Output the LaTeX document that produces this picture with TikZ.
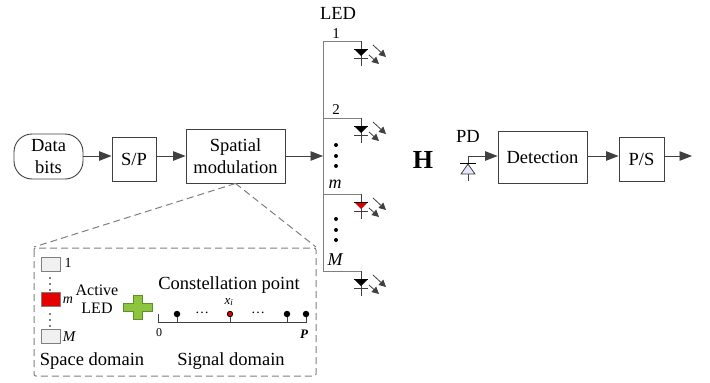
\documentclass[tikz,border=0pt]{standalone}
\usepackage{fontspec}
\setmainfont{Liberation Serif}
\usetikzlibrary{arrows.meta}
\definecolor{ln}{HTML}{404040}
\definecolor{gr}{HTML}{7F7F7F}
\definecolor{plusc}{HTML}{8CC63F}
\definecolor{plusd}{HTML}{5E8F2A}
\tikzset{
 x=1pt,y=-1pt,
 blockbox/.style={draw=ln,line width=.9pt,minimum width=#1,inner sep=0pt,align=center,font=\fontsize{18.5}{22}\selectfont},
 sig/.style={draw=ln,line width=.9pt,-{Triangle[length=12.5pt,width=9.5pt]}},
 bus/.style={draw=gr,line width=1pt},
 txt/.style={inner sep=0pt,font=\fontsize{18.5}{22}\selectfont},
 small/.style={inner sep=0pt,font=\fontsize{14}{16}\selectfont},
 dashbox/.style={draw=gr,line width=1pt,dash pattern=on 7pt off 4pt},
 vdot/.style={circle,fill=black,inner sep=0pt,minimum size=4pt},
 cell/.style={draw=gr,line width=.8pt,fill=#1,minimum width=19pt,minimum height=14pt,inner sep=0pt},
 ptk/.style={circle,fill=black,inner sep=0pt,minimum size=6.5pt},
}
\newcommand{\ledsym}[3]{%
 \coordinate (#1top) at (361,#2);
 \draw[ln,line width=.8pt] (361,#2) -- ++(0,25);
 \fill[#3] (354,#2+8) -- (368,#2+8) -- (361,#2+15) -- cycle;
 \draw[black,line width=.8pt] (354,#2+8) -- (368,#2+8);
 \draw[ln,line width=.8pt] (354,#2+17.5) -- (368,#2+17.5);
 \draw[ln,line width=.8pt,-{Triangle[length=7pt,width=7pt]}] (369,#2+14) -- (379,#2+23);
 \draw[ln,line width=.8pt,-{Triangle[length=7pt,width=7pt]}] (373,#2+4) -- (386,#2+16);
}
\begin{document}
\begin{tikzpicture}
\useasboundingbox (0,0) rectangle (710,383);
% blocks
\coordinate (sigy) at (0,156);
\node[blockbox=69pt,minimum height=45pt,rounded corners=18pt] (data) at (48.5,156.5) {Data\\bits};
\node[blockbox=44pt,minimum height=44pt] (sp) at (134,159) {S/P};
\node[blockbox=99pt,minimum height=54pt] (sm) at (235.5,156) {Spatial\\modulation};
\node[blockbox=89pt,minimum height=52pt] (det) at (542.5,157) {Detection};
\node[blockbox=45pt,minimum height=44pt] (ps) at (641.5,159) {P/S};
\draw[sig] (data.east|-sigy) -- (sp.west|-sigy);
\draw[sig] (sp.east|-sigy) -- (sm.west|-sigy);
\coordinate (busmid) at (323,156);
\draw[sig] (sm.east|-busmid) -- (busmid);
\draw[sig] (det.east|-sigy) -- (ps.west|-sigy);
\coordinate (outend) at (692,156);
\draw[sig] (ps.east|-outend) -- (outend);
% bus
\coordinate (b1) at (323,41); \coordinate (b4) at (323,271);
\draw[bus] (361,41) -- (b1) -- (b4) -- (361,271);
\draw[bus] (323,118) -- (361,118);
\draw[bus] (323,194) -- (361,194);
\ledsym{la}{41}{black}
\ledsym{lb}{118}{black}
\ledsym{lc}{194}{red!85!black}
\ledsym{ld}{271}{black}
\node[txt] (led) at (338,13) {LED};
\node[small,font=\fontsize{15}{17}\selectfont] (n1) at (336,34) {1};
\node[small,font=\fontsize{15}{17}\selectfont] (n2) at (336,110) {2};
\node[small,font=\fontsize{18}{20}\selectfont\itshape] (nm) at (335,184) {m};
\node[small,font=\fontsize{18}{20}\selectfont\itshape] (nM) at (335,260) {M};
\foreach \n/\y in {a/145,b/156,c/166,d/219,e/230,f/240} \node[vdot] (d\n) at (336,\y) {};
% channel
\node[inner sep=0pt,font=\fontsize{26}{30}\selectfont\bfseries] (H) at (423,160) {H};
\node[txt] (pd) at (468,136) {PD};
\coordinate (pdt) at (468,156);
\coordinate (pdb) at (468,181);
\draw[ln,line width=.8pt] (pdb) -- (pdt);
\draw[sig] (pdt) -- (det.west|-pdt);
\draw[ln,line width=.8pt,fill=blue!10] (461,174) -- (475,174) -- (468,164) -- cycle;
\draw[black,line width=.8pt] (460,163.5) -- (476,163.5);
% dashed zoom
\draw[dashbox,rounded corners=2pt] (34,248) rectangle (316,376);
\coordinate (zl) at (34,247);
\coordinate (zr) at (316,247);
\draw[dashbox] (sm.south) -- (zl);
\draw[dashbox] (sm.south) -- (zr);
% space domain
\node[cell=gray!12] (c1) at (50.5,264) {};
\node[cell=red!90!black] (c2) at (50.5,299.5) {};
\node[cell=gray!12] (c3) at (50.5,336) {};
\node[small] (c1l) at (68,263) {1};
\node[small,font=\fontsize{14}{16}\selectfont\itshape] (c2l) at (68,300) {m};
\node[small,font=\fontsize{15}{17}\selectfont\itshape] (c3l) at (69,337) {M};
\foreach \y in {278,284,290,314,320,326} \fill (50,\y) circle (.9pt);
\node[inner sep=0pt,align=center,font=\fontsize{16}{18.5}\selectfont] (act) at (97,299) {Active\\LED};
% plus
\draw[draw=plusd,fill=plusc,line width=.6pt] (133,295) -- (142,295) -- (142,303) -- (152,303) -- (152,311) -- (142,311) -- (142,319) -- (133,319) -- (133,311) -- (123,311) -- (123,303) -- (133,303) -- cycle;
% signal domain
\node[txt] (cp) at (229,285) {Constellation point};
\coordinate (a0) at (158,322); \coordinate (aP) at (306,322);
\draw[ln,line width=.8pt] (158,314) -- (a0) -- (aP) -- (306,314);
\node[ptk] (p1) at (177,314) {};
\node[ptk,fill=red!85!black,draw=black,line width=.8pt,minimum size=5.5pt] (p2) at (230,314) {};
\node[ptk] (p3) at (287,314) {};
\node[ptk] (p4) at (306,314) {};
\draw[ln,line width=.8pt] (p1) -- (p1|-a0) (p2) -- (p2|-a0) (p3) -- (p3|-a0);
\node[small] (e1) at (202,313) {\dots};
\node[small] (e2) at (258,313) {\dots};
\node[inner sep=0pt,font=\fontsize{13}{15}\selectfont\itshape] (xi) at (229,302) {x\textsubscript{i}};
\node[inner sep=0pt,font=\fontsize{12}{14}\selectfont] (zero) at (159,333) {0};
\node[inner sep=0pt,font=\fontsize{13}{15}\selectfont\bfseries\itshape] (bigp) at (304,334) {P};
\node[txt] (sd) at (92,361) {Space domain};
\node[txt] (gd) at (231,361) {Signal domain};
\end{tikzpicture}
\end{document}
